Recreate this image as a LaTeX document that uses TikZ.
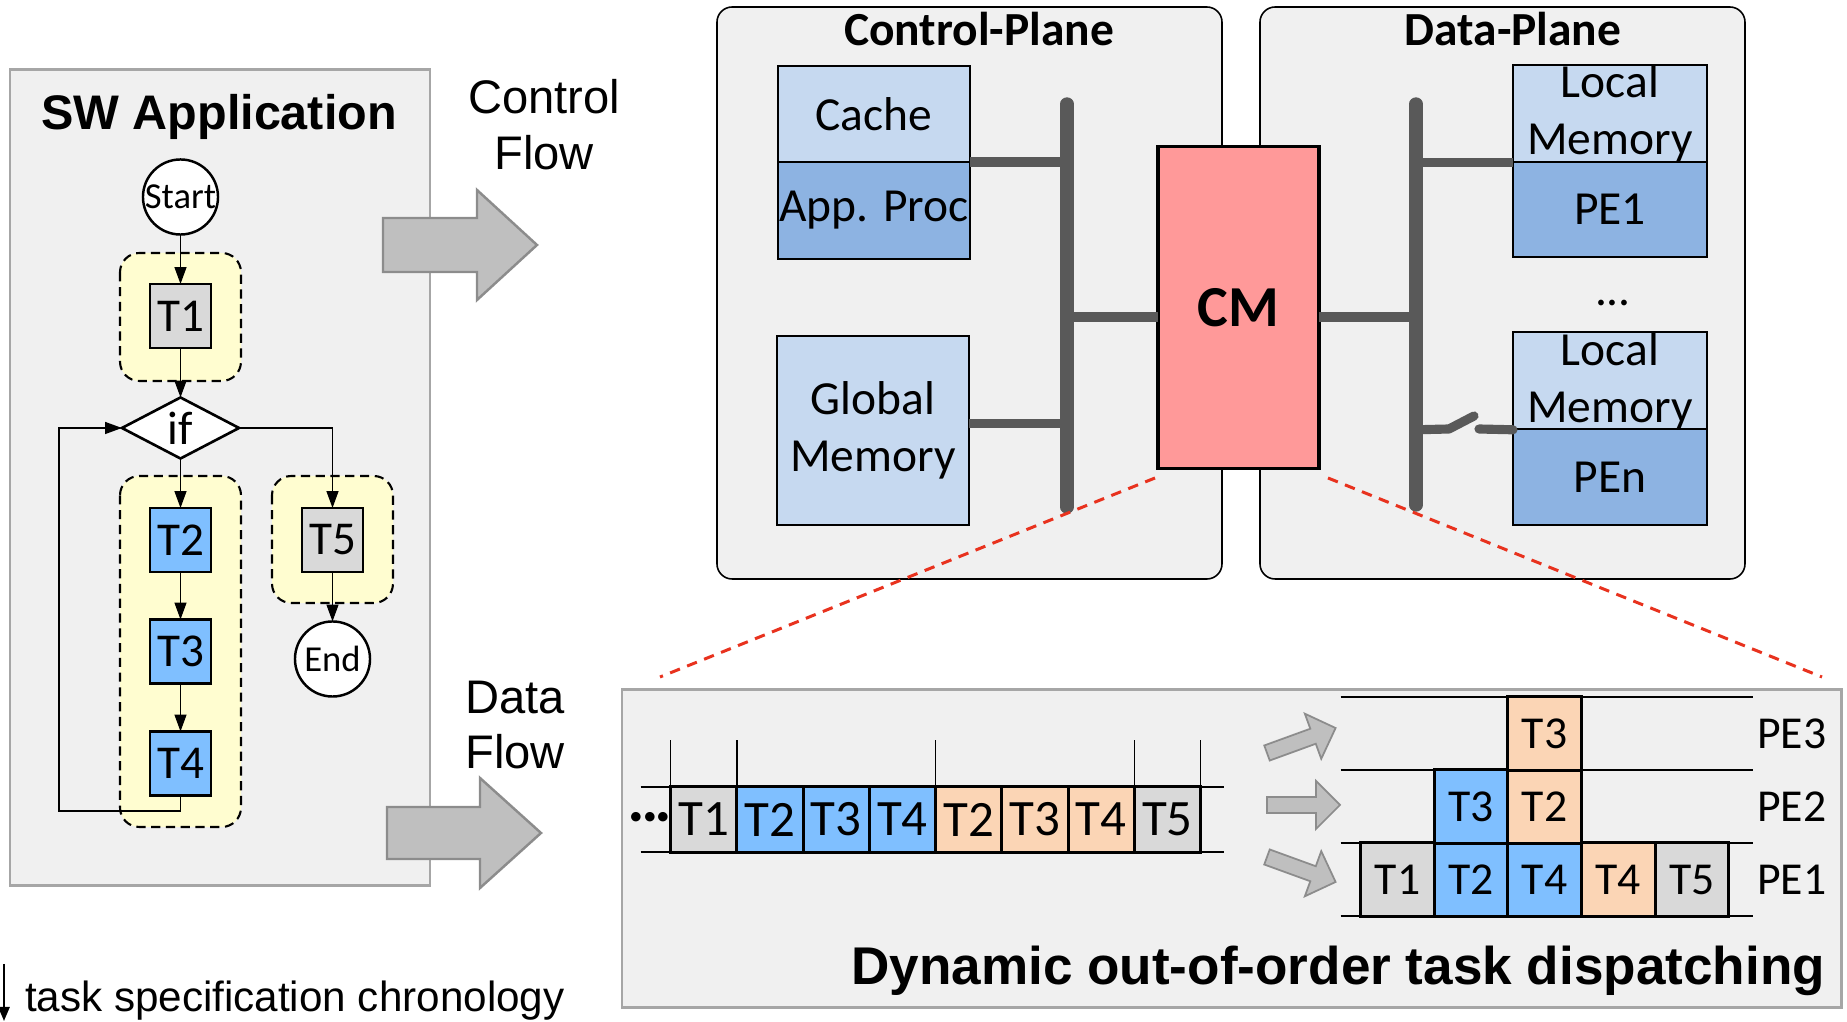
\documentclass[tikz,border=0pt]{standalone}
\usepackage{fontspec}
\setmainfont{Carlito}
\newfontfamily\arialf{Liberation Sans}
\usetikzlibrary{shapes.geometric,arrows.meta}
\def\PX{0.28453pt}
\definecolor{panelfill}{HTML}{F0F0F0}
\definecolor{panelline}{HTML}{A6A6A6}
\definecolor{grpfill}{HTML}{FFFDD0}
\definecolor{tgray}{HTML}{D9D9D9}
\definecolor{tblue}{HTML}{7FBFFF}
\definecolor{tpeach}{HTML}{FBD5B5}
\definecolor{lblue}{HTML}{C6D9F0}
\definecolor{mblue}{HTML}{8DB3E2}
\definecolor{cmred}{HTML}{FF9999}
\definecolor{busgray}{HTML}{595959}
\definecolor{dashred}{HTML}{E8321E}
\definecolor{arrfill}{HTML}{BFBFBF}
\definecolor{arrline}{HTML}{8C8C8C}
\begin{document}
\begin{tikzpicture}[x=0.01cm,y=-0.01cm,
  every node/.style={inner sep=0pt,outer sep=0pt},
  swpanel/.style={draw=panelline,fill=panelfill,line width=0.85pt},
  plane/.style={draw=black,fill=panelfill,line width=0.45pt,rounded corners=4.3pt},
  grp/.style={draw=black,fill=grpfill,line width=0.6pt,dash pattern=on 2.6pt off 1.6pt,rounded corners=5.5pt},
  fctask/.style={draw,line width=0.75pt,minimum width=61*\PX,minimum height=64*\PX,font=\fontsize{13.4}{16}\selectfont},
  fccirc/.style={draw,circle,fill=white,line width=0.7pt,minimum size=75*\PX,font=\fontsize{10.4}{12}\selectfont},
  fcdia/.style={draw,diamond,fill=white,line width=0.75pt,minimum width=117*\PX,minimum height=61*\PX,font=\fontsize{13.4}{16}\selectfont},
  flowarrow/.style={line width=0.4pt,-{Triangle[length=4.8pt,width=3.4pt]}},
  bigarrow/.style={draw=arrline,fill=arrfill,line width=0.7pt},
  hwbox/.style={draw,line width=0.65pt,minimum width=192*\PX,font=\fontsize{13.5}{16.4}\selectfont,align=center},
  bus/.style={draw=busgray,line width=3.8pt,line cap=round},
  branch/.style={draw=busgray,line width=2.6pt},
  redline/.style={draw=dashred,line width=0.85pt,dash pattern=on 3pt off 2.2pt},
  qcell/.style={draw,line width=0.85pt,minimum width=66.2*\PX,minimum height=65*\PX,font=\fontsize{14.5}{17}\selectfont},
  scell/.style={draw,line width=0.85pt,minimum width=73.5*\PX,minimum height=73*\PX,font=\fontsize{13}{16}\selectfont},
  tline/.style={line width=0.4pt},
  smallarrow/.style={draw=arrline,fill=arrfill,line width=0.5pt}
]
\useasboundingbox (0,0) rectangle (1847,1022);

% ---------------- SW application panel ----------------
\draw[swpanel] (10,70) rectangle (430,886);
\node[font=\arialf\bfseries\fontsize{13.8}{16}\selectfont,anchor=base] (swtitle) at (219,130) {SW Application};

\draw[grp] (120,253) rectangle (241,381);
\draw[grp] (120,476) rectangle (241,827);
\draw[grp] (272,476) rectangle (393,603);

\node[fccirc] (start) at (180.5,197) {Start};
\node[fctask,fill=tgray] (t1) at (180.5,316) {T1};
\node[fcdia] (ifd) at (180.5,428) {if};
\node[fctask,fill=tblue] (t2) at (180.5,540) {T2};
\node[fctask,fill=tblue] (t3) at (180.5,651.5) {T3};
\node[fctask,fill=tblue] (t4) at (180.5,763.5) {T4};
\node[fctask,fill=tgray] (t5) at (332.5,540) {T5};
\node[fccirc] (endn) at (332.5,659) {End};
\coordinate (loopc) at (59,811);

\draw[flowarrow] (start) -- (t1);
\draw[flowarrow] (t1) -- (ifd);
\draw[flowarrow] (ifd) -- (t2);
\draw[flowarrow] (t2) -- (t3);
\draw[flowarrow] (t3) -- (t4);
\draw[flowarrow] (ifd.east) -| (t5.north);
\draw[flowarrow] (t5) -- (endn);
\draw[flowarrow] (t4.south) |- (loopc) |- (ifd.west);

% chronology legend
\coordinate (chrA) at (4,964);
\coordinate (chrB) at (4,1021);
\draw[line width=0.6pt,-{Triangle[length=4pt,width=3.2pt]}] (chrA) -- (chrB);
\node[font=\arialf\fontsize{12}{14}\selectfont,anchor=base west] (chron) at (25,1012) {task specification chronology};

% ---------------- flow arrows ----------------
\draw[bigarrow] (383,218) -- (477,218) -- (477,190) -- (537,245) -- (477,300) -- (477,272) -- (383,272) -- cycle;
\draw[bigarrow] (387,807) -- (480,807) -- (480,778) -- (541,833) -- (480,888) -- (480,859) -- (387,859) -- cycle;
\node[font=\arialf\fontsize{13.4}{15.9}\selectfont,align=center] (cflow) at (544,125) {Control\\Flow};
\node[font=\arialf\fontsize{13.4}{15.9}\selectfont,align=center] (dflow) at (515,725) {Data\\Flow};

% ---------------- planes ----------------
\draw[plane] (717,7) rectangle (1222,579);
\draw[plane] (1260,7) rectangle (1745,579);
\node[font=\bfseries\fontsize{13.5}{16}\selectfont,anchor=base] (cptitle) at (979,46) {Control-Plane};
\node[font=\bfseries\fontsize{13.5}{16}\selectfont,anchor=base] (dptitle) at (1513,46) {Data-Plane};

\node[hwbox,fill=lblue,minimum height=96*\PX] (cache) at (874,114) {Cache};
\node[hwbox,fill=mblue,minimum height=97*\PX] (appproc) at (874,210.5) {App. Proc};
\node[hwbox,fill=lblue,minimum height=189*\PX] (gmem) at (873,430.5) {Global\\Memory};

\coordinate (cbusT) at (1067,104);
\coordinate (cbusB) at (1067,507);
\coordinate (dbusT) at (1416,104);
\coordinate (dbusB) at (1416,505);

\node[hwbox,fill=lblue,minimum width=194*\PX,minimum height=97*\PX,font=\fontsize{13.5}{16.2}\selectfont] (lm1) at (1610,113.5) {Local\\Memory};
\node[hwbox,fill=mblue,minimum width=194*\PX,minimum height=95*\PX] (pe1) at (1610,209.5) {PE1};
\node[hwbox,fill=lblue,minimum width=194*\PX,minimum height=96*\PX,font=\fontsize{13.5}{16.2}\selectfont] (lmn) at (1610,381) {Local\\Memory};
\node[hwbox,fill=mblue,minimum width=194*\PX,minimum height=96*\PX] (pen) at (1610,477) {PEn};
\node[font=\fontsize{13.5}{16}\selectfont] (dots) at (1613,303) {...};

\draw[branch] (cache.south east) -- (cache.south east -| cbusT);
\draw[branch] ([yshift=2pt]gmem.east) -- ([yshift=2pt]gmem.east -| cbusT);
\draw[branch] (lm1.south west) -- (lm1.south west -| dbusT);
\coordinate (swA) at (1449,429);
\coordinate (swB) at (1474,416);
\coordinate (swC) at (1479,429);
\draw[branch,line cap=round,line join=round] (lmn.south west -| dbusT) -- (swA) -- (swB);
\draw[branch,line cap=round] (swC) -- (lmn.south west);
\draw[bus] (cbusT) -- (cbusB);
\draw[bus] (dbusT) -- (dbusB);

\node[draw,line width=0.9pt,fill=cmred,minimum width=161*\PX,minimum height=321*\PX,font=\bfseries\fontsize{16.5}{19}\selectfont] (cm) at (1238.5,307.5) {CM};
\draw[branch] ([yshift=-2.7pt]cm.west) -- ([yshift=-2.7pt]cm.west -| cbusT);
\draw[branch] ([yshift=-2.7pt]cm.east) -- ([yshift=-2.7pt]cm.east -| dbusT);

% ---------------- dispatching panel ----------------
\draw[swpanel] (622,690) rectangle (1841,1008);
\node[font=\arialf\bfseries\fontsize{15.1}{18}\selectfont,anchor=base east] (disptitle) at (1825,985) {Dynamic out-of-order task dispatching};

\coordinate (dlA) at (1155,478);
\coordinate (dlB) at (660,677);
\coordinate (drA) at (1328,478);
\coordinate (drB) at (1822,677);
\draw[redline] (dlA) -- (dlB);
\draw[redline] (drA) -- (drB);

% queue
\coordinate (qL) at (640.6,0);
\coordinate (qR) at (1224,0);
\foreach \i/\lab/\col in {0/T1/tgray,1/T2/tblue,2/T3/tblue,3/T4/tblue,4/T2/tpeach,5/T3/tpeach,6/T4/tpeach,7/T5/tgray}
  \node[qcell,fill=\col] (q\i) at ({670.6+66.24*\i+33.12},819.5) {\lab};
\draw[tline] (q0.north west -| qL) -- (q7.north east -| qR);
\draw[tline] (q0.south west -| qL) -- (q7.south east -| qR);
\foreach \n/\a in {q0/west,q1/west,q4/west,q7/west,q7/east}
  \draw[tline] (\n.north \a) -- ++(0,-47);
\node[font=\bfseries\fontsize{14.5}{17}\selectfont] (qdots) at (650,822) {···};

% schedule
\coordinate (sL) at (1340.7,0);
\coordinate (sR) at (1753,0);
\foreach \i/\lab/\col in {0/T1/tgray,1/T2/tblue,2/T4/tblue,3/T4/tpeach,4/T5/tgray}
  \node[scell,fill=\col] (p1\i) at ({1360.8+73.56*\i+36.78},879.5) {\lab};
\node[scell,fill=tblue] (p2a) at ({1360.8+73.56+36.78},806.5) {T3};
\node[scell,fill=tpeach] (p2b) at ({1360.8+2*73.56+36.78},806.5) {T2};
\node[scell,fill=tpeach] (p3a) at ({1360.8+2*73.56+36.78},733.5) {T3};
\draw[tline] (p3a.north -| sL) -- (p3a.north -| sR);
\draw[tline] (p3a.south -| sL) -- (p3a.south -| sR);
\draw[tline] (p2b.south -| sL) -- (p2b.south -| sR);
\draw[tline] (p10.south -| sL) -- (p10.south -| sR);
\node[font=\fontsize{13}{16}\selectfont] (lpe3) at (1791.7,733.5) {PE3};
\node[font=\fontsize{13}{16}\selectfont] (lpe2) at (1791.7,806.5) {PE2};
\node[font=\fontsize{13}{16}\selectfont] (lpe1) at (1791.7,879.5) {PE1};

% small dispatch arrows
\foreach \yy/\ang in {753/20,805/0,857/-20}
  \draw[smallarrow,shift={(1267,\yy)},rotate=\ang] (0,-8) -- (49,-8) -- (49,-24) -- (73,0) -- (49,24) -- (49,8) -- (0,8) -- cycle;

\end{tikzpicture}
\end{document}
